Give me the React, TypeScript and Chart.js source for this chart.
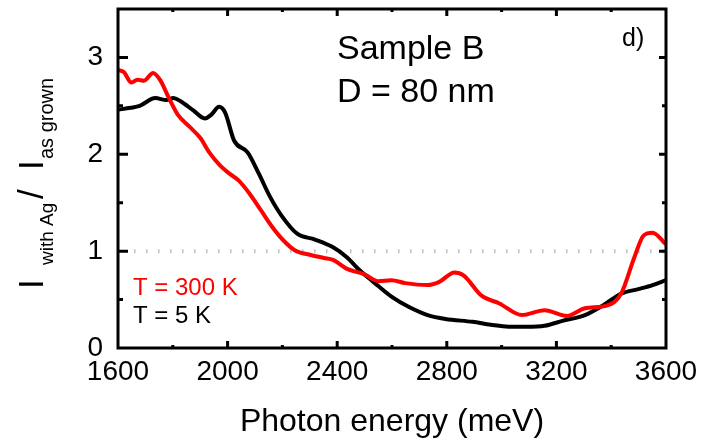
import React, { useEffect, useRef } from "react";
import { Chart, registerables } from "chart.js";

Chart.register(...registerables);

// T = 5 K (black)
const energyBlack = [1600, 1646, 1679, 1736, 1777, 1802, 1827, 1876, 1917, 1941, 1969, 1991, 2024, 2073, 2114, 2155, 2196, 2254, 2319, 2385, 2434, 2483, 2533, 2598, 2664, 2730, 2795, 2894, 2960, 3025, 3091, 3157, 3222, 3304, 3370, 3436, 3502, 3551, 3600];
const ratioBlack = [2.46, 2.48, 2.5, 2.58, 2.56, 2.58, 2.55, 2.45, 2.37, 2.41, 2.49, 2.43, 2.14, 2.02, 1.8, 1.56, 1.37, 1.18, 1.12, 1.04, 0.94, 0.8, 0.68, 0.53, 0.42, 0.34, 0.3, 0.27, 0.24, 0.22, 0.22, 0.23, 0.28, 0.34, 0.44, 0.56, 0.61, 0.65, 0.7];

// T = 300 K (red)
const energyRed = [1600, 1621, 1649, 1671, 1695, 1728, 1753, 1786, 1818, 1859, 1900, 1933, 1974, 2007, 2040, 2081, 2122, 2163, 2204, 2245, 2303, 2352, 2385, 2434, 2500, 2549, 2598, 2648, 2730, 2771, 2828, 2861, 2927, 2992, 3074, 3157, 3239, 3304, 3386, 3436, 3485, 3518, 3551, 3600];
const ratioRed = [2.87, 2.85, 2.74, 2.77, 2.76, 2.84, 2.77, 2.58, 2.41, 2.29, 2.17, 2.02, 1.88, 1.8, 1.73, 1.59, 1.42, 1.25, 1.11, 1.01, 0.96, 0.93, 0.91, 0.82, 0.76, 0.69, 0.7, 0.67, 0.65, 0.68, 0.78, 0.75, 0.54, 0.46, 0.34, 0.39, 0.33, 0.41, 0.44, 0.56, 0.94, 1.16, 1.19, 1.07];

const xTickValues = [1600, 2000, 2400, 2800, 3200, 3600];
const yTickValues = [0, 1, 2, 3];

const FONT = '"Liberation Sans", Arial, sans-serif';

const decorPlugin = {
  id: "decor",
  beforeDatasetsDraw(chart: any) {
    const { ctx, chartArea, scales } = chart;
    const y1 = scales.y.getPixelForValue(1);
    ctx.save();
    ctx.strokeStyle = "#c0c0c0";
    ctx.lineWidth = 4;
    ctx.setLineDash([1.5, 10.5]);
    ctx.beginPath();
    ctx.moveTo(chartArea.left + 16, y1);
    ctx.lineTo(chartArea.right, y1);
    ctx.stroke();
    ctx.restore();
  },
  afterDraw(chart: any) {
    const { ctx, chartArea, scales } = chart;
    const { left, right, top, bottom } = chartArea;
    ctx.save();
    ctx.strokeStyle = "#000";
    ctx.lineWidth = 3;
    ctx.setLineDash([]);
    ctx.strokeRect(left, top, right - left, bottom - top);

    // x ticks
    for (let v = 1800; v < 3600; v += 200) {
      const px = scales.x.getPixelForValue(v);
      const major = (v - 1600) % 400 === 0;
      const len = major ? 7 : 3;
      ctx.beginPath();
      ctx.moveTo(px, bottom);
      ctx.lineTo(px, bottom - len);
      ctx.moveTo(px, top);
      ctx.lineTo(px, top + len);
      ctx.stroke();
    }
    // y ticks
    for (let v = 0.5; v < 3.5; v += 0.5) {
      const py = scales.y.getPixelForValue(v);
      const major = Math.abs(v - Math.round(v)) < 1e-6;
      const lenL = major ? 10 : 5;
      const lenR = major ? 7 : 4;
      ctx.beginPath();
      ctx.moveTo(left, py);
      ctx.lineTo(left + lenL, py);
      ctx.moveTo(right, py);
      ctx.lineTo(right - lenR, py);
      ctx.stroke();
    }

    // annotations
    ctx.fillStyle = "#000";
    ctx.textBaseline = "alphabetic";
    ctx.textAlign = "left";
    ctx.font = `34px ${FONT}`;
    ctx.fillText("Sample B", 337, 59);
    ctx.fillText("D = 80 nm", 337, 102);
    ctx.font = `25px ${FONT}`;
    ctx.fillText("d)", 622, 46);
    ctx.font = `24px ${FONT}`;
    ctx.fillStyle = "#ff0000";
    ctx.fillText("T = 300 K", 133, 295);
    ctx.fillStyle = "#000";
    ctx.fillText("T = 5 K", 133, 323);

    // y-axis title with subscripts
    const pieces = [
      { t: "I", size: 35, y: 289, x: 43 },
      { t: "with Ag", size: 19, y: 265, x: 53 },
      { t: "/", size: 35, y: 199, x: 43 },
      { t: "I", size: 35, y: 170, x: 43 },
      { t: "as grown", size: 20, y: 159, x: 53 },
    ];
    for (const p of pieces) {
      ctx.save();
      ctx.translate(p.x, p.y);
      ctx.rotate(-Math.PI / 2);
      ctx.font = `${p.size}px ${FONT}`;
      ctx.fillText(p.t, 0, 0);
      ctx.restore();
    }
    ctx.restore();
  },
};

export default function App() {
  const canvasRef = useRef<HTMLCanvasElement | null>(null);

  useEffect(() => {
    const canvas = canvasRef.current;
    if (!canvas) return;
    const chart = new Chart(canvas, {
      type: "line",
      data: {
        datasets: [
          {
            label: "T = 300 K",
            data: energyRed.map((x, i) => ({ x, y: ratioRed[i] })),
            borderColor: "#ff0000",
            borderWidth: 4,
            pointRadius: 0,
            cubicInterpolationMode: "monotone",
            fill: false,
          },
          {
            label: "T = 5 K",
            data: energyBlack.map((x, i) => ({ x, y: ratioBlack[i] })),
            borderColor: "#000000",
            borderWidth: 4,
            pointRadius: 0,
            cubicInterpolationMode: "monotone",
            fill: false,
          },
        ],
      },
      options: {
        animation: false,
        responsive: false,
        maintainAspectRatio: false,
        layout: { padding: { top: 9, right: 36, left: 0, bottom: 0 } },
        plugins: {
          legend: { display: false },
          tooltip: { enabled: false },
        },
        scales: {
          x: {
            type: "linear",
            min: 1600,
            max: 3600,
            afterBuildTicks: (scale: any) => {
              scale.ticks = xTickValues.map((v) => ({ value: v }));
            },
            afterFit: (scale: any) => {
              scale.height = 92;
              scale.paddingLeft = 0;
              scale.paddingRight = 0;
            },
            grid: { display: false, drawTicks: false },
            border: { display: false },
            ticks: {
              color: "#000",
              padding: 7,
              maxRotation: 0,
              autoSkip: false,
              font: { family: FONT, size: 28 },
              callback: (v: any) => String(v),
            },
            title: {
              display: true,
              text: "Photon energy (meV)",
              color: "#000",
              font: { family: FONT, size: 32, lineHeight: 1 },
              padding: { top: 0, bottom: 2 },
            },
          },
          y: {
            type: "linear",
            min: 0,
            max: 3.5,
            afterBuildTicks: (scale: any) => {
              scale.ticks = yTickValues.map((v) => ({ value: v }));
            },
            afterFit: (scale: any) => {
              scale.width = 118;
              scale.paddingTop = 0;
              scale.paddingBottom = 0;
            },
            grid: { display: false, drawTicks: false },
            border: { display: false },
            ticks: {
              color: "#000",
              padding: 15,
              autoSkip: false,
              font: { family: FONT, size: 28 },
              callback: (v: any) => String(v),
            },
            title: { display: false },
          },
        },
      },
      plugins: [decorPlugin],
    });
    return () => chart.destroy();
  }, []);

  return (
    <div style={{ position: "fixed", left: 0, top: 0, width: 702, height: 440, background: "#fff" }}>
      <canvas ref={canvasRef} width={702} height={440} style={{ width: 702, height: 440, display: "block" }} />
    </div>
  );
}
